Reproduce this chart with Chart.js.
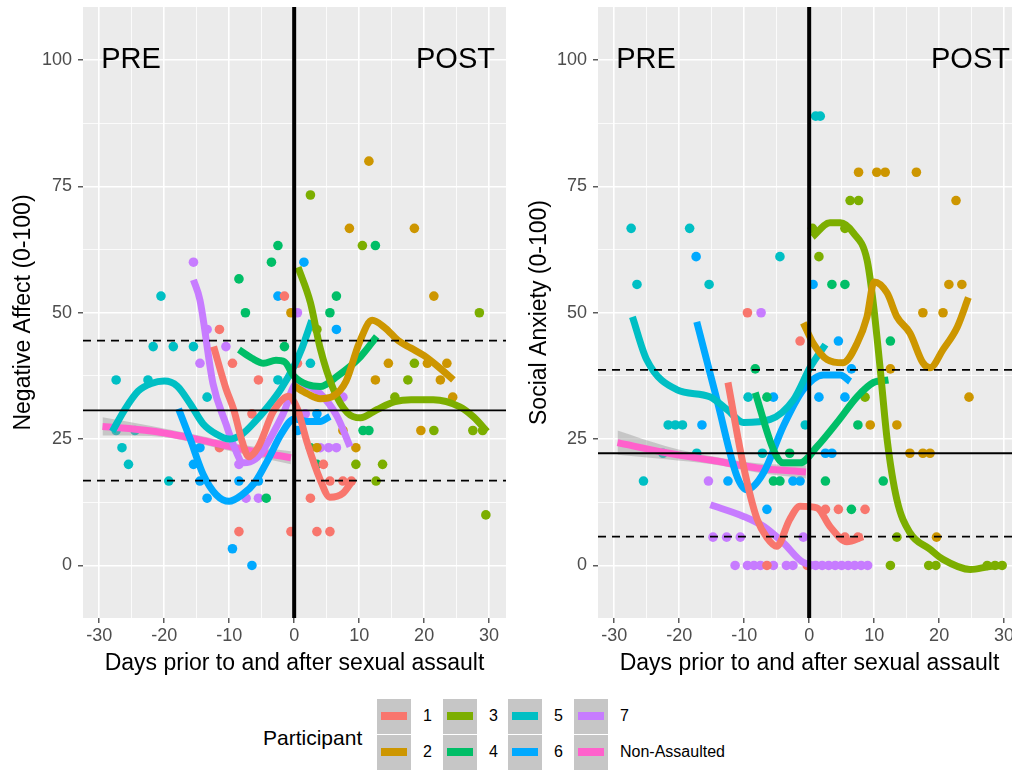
<!DOCTYPE html>
<html>
<head>
<meta charset="utf-8">
<script src="https://cdn.jsdelivr.net/npm/chart.js@4.4.0/dist/chart.umd.min.js"></script>
<style>
html, body { margin: 0; padding: 0; background: #fff; overflow: hidden; width: 1012px; height: 771px; }
canvas { position: absolute; top: 0; }
#legend { position: absolute; left: 0; top: 0; font-family: "Liberation Sans", Arial, sans-serif; }
.key { position: absolute; width: 34px; height: 35px; background: #C6C6C6; }
.key span { position: absolute; left: 4px; top: 13px; width: 26px; height: 8px; }
.lab { position: absolute; font-size: 16px; color: #000; line-height: 20px; white-space: nowrap; }
</style>
</head>
<body>
<canvas id="naChart" width="512" height="680" style="left:0"></canvas>
<canvas id="saChart" width="522" height="680" style="left:512px"></canvas>
<div id="legend"></div>
<script>
// axis ranges and ticks
const xMin = -32.5, xMax = 32.6;
const yMin = -10.4, yMax = 110.5;
const xTicks = [-30, -20, -10, 0, 10, 20, 30];
const xMinor = [-25, -15, -5, 5, 15, 25];
const yTicks = [0, 25, 50, 75, 100];
const yMinor = [12.5, 37.5, 62.5, 87.5];

const participants = ['1', '2', '3', '4', '5', '6', '7', 'Non-Assaulted'];
const colors = ['#F8766D', '#CD9600', '#7CAE00', '#00BE67', '#00BFC4', '#00A9FF', '#C77CFF', '#FF61CC'];

// Negative affect: observed points (day, score)
const na1 = [[-11.5,46.7],[-9.5,40],[0.5,40],[-5.5,36.7],[-6.5,30],[-11.5,23.3],[4.5,20],[5.5,16.7],[7.5,16.7],[8.8,16.7],[2.5,13.3],[-8.5,6.7],[-0.5,6.7],[3.5,6.7],[5.5,6.7],[-1.5,53.3]];
const na2 = [[11.5,80],[8.5,66.7],[18.5,66.7],[21.5,53.3],[-0.5,50],[14.5,40],[20.5,40],[23.5,40],[12.5,36.7],[22.5,36.7],[24.4,33.3],[19.5,26.7],[7.5,26.7],[9.5,23.3],[3.5,23.3]];
const na3 = [[2.5,73.3],[10.5,63.3],[28.5,50],[3.5,46.7],[18.5,40],[17.5,36.7],[15.5,33.3],[21.5,26.7],[27.5,26.7],[29,26.7],[9.5,20],[13.6,20],[12.6,16.7],[29.5,10]];
const na4 = [[-2.5,63.3],[12.5,63.3],[-3.5,60],[-8.5,56.7],[6.5,53.3],[-7.5,50],[5.5,50],[-1.5,43.3],[10.6,26.7],[11.5,26.7],[2.5,23.3],[3.5,20],[-4.3,13.3]];
const na5 = [[-20.5,53.3],[-21.7,43.3],[-18.6,43.3],[-15.5,43.3],[2.5,40],[-27.4,36.7],[-22.5,36.7],[-2.5,36.7],[-13.4,33.3],[-27.4,26.7],[-24.5,26.7],[-26.5,23.3],[-25.5,20],[-19.3,16.7]];
const na6 = [[1.5,60],[-2.5,53.3],[6.5,46.7],[-14.5,23.3],[-15.5,20],[-14.5,16.7],[-8.5,16.7],[-5.5,16.7],[-13.4,13.3],[-9.5,3.3],[-6.5,0],[0.5,26.7],[3.5,30]];
const na7 = [[-15.5,60],[0.5,50],[-13.4,46.7],[-10.5,43.3],[-14.5,40],[7.5,33.3],[1.7,30],[4,23.3],[5.3,23.3],[6.5,23.3],[-8.5,20],[-7.4,13.3],[-5.5,13.3]];
const naNon = [];

// Negative affect: smoothed fits
const naFit1 = [[-12.4,43.3],[-10.5,35],[-9.3,30.8],[-8,24.5],[-7,21.5],[-5.5,23.5],[-3.2,30.5],[-0.8,33.5],[0.5,31],[2,24.3],[4,17],[5.5,13.5],[7.5,14.3],[9.1,17]];
const naFit2 = [[0,35.5],[2,34],[4,33],[6,33.5],[8,36.5],[10,44],[12,48.5],[14,47],[16,44.5],[18,43],[20,41.5],[22,39.5],[24.5,36.7]];
const naFit3 = [[0.6,59],[2.5,52],[4,43],[6,35],[8.2,30.2],[10.2,29.2],[12.7,30.8],[15.5,32.4],[18,32.8],[21.4,32.8],[25.5,31.4],[27.6,29.4],[29.7,26.5]];
const naFit4 = [[-8.5,42.7],[-6.5,41],[-4.7,40],[-2.8,40.6],[-1.5,40.3],[0,37.4],[2,35.8],[4,35.4],[6.6,37.4],[10.2,41.3],[12.7,45.3]];
const naFit5 = [[-28,26.5],[-26,31],[-24,34.5],[-22,36],[-20,36.5],[-18,35.5],[-16,32],[-14,28],[-12,26],[-10,25],[-8,26],[-6,28.5],[-4,31.5],[-2,35],[0,39.5],[1.2,43],[2.7,48.5]];
const naFit6 = [[-17.8,31],[-16,25],[-14,18],[-12,14],[-10,12.7],[-8,14],[-6,16.5],[-4,21],[-2,26],[0,29],[2,28.5],[4,28.5],[5.5,29.5]];
const naFit7 = [[-15.5,56.5],[-14.5,52.5],[-12.5,36],[-10.5,28],[-9.4,24],[-7.8,20.3],[-6,21],[-4.7,23],[-1.7,30],[0.4,36],[2,35.5],[4,34],[6.6,29.5],[8.6,23.5]];
const naFitNon = [[-29.5,27.5],[-22,26.6],[-15,25],[-8,23],[-0.5,21.3]];
const naBandHi = [[-29.5,29.3],[-22,27.6],[-15,25.8],[-8,23.9],[-0.5,22.6]];
const naBandLo = [[-29.5,25.7],[-22,25.6],[-15,24.2],[-8,22.1],[-0.5,20]];
const naMean = 30.7, naSd = [44.5, 16.8];

// Social anxiety: observed points
const sa1 = [[-9.5,50],[-1.4,44.4],[2.5,11.1],[4.5,11.1],[8.6,11.1],[5.5,5.6],[7.5,5.6],[-6.5,0],[-0.3,0]];
const sa2 = [[7.6,77.8],[10.4,77.8],[11.7,77.8],[16.5,77.8],[22.6,72.2],[21.5,55.6],[23.5,55.6],[17.5,50],[20.6,50],[12.5,38.9],[24.6,33.3],[9.4,27.8],[13.5,27.8],[15.5,22.2],[17.5,22.2],[18.6,22.2],[19.6,5.6]];
const sa3 = [[6.3,72.2],[7.6,72.2],[5.5,66.7],[0.5,66.7],[1.5,61.1],[8.6,33.3],[13.5,5.6],[12.5,0],[18.4,0],[19.5,0],[27.4,0],[28.6,0],[29.7,0]];
const sa4 = [[3.5,55.6],[5.5,55.6],[12.5,44.4],[-8.3,38.9],[-6.5,33.3],[7.5,27.8],[-5.5,16.7],[-4.5,16.7],[2.5,16.7],[11.4,16.7],[6.5,11.1],[-3,22.2]];
const sa5 = [[1,88.9],[1.7,88.9],[-27.4,66.7],[-18.4,66.7],[-4.5,61.1],[-26.5,55.6],[-15.4,55.6],[-9.4,33.3],[-21.7,27.8],[-20.6,27.8],[-19.5,27.8],[-0.6,27.8],[-22.5,22.2],[-17.3,22.2],[-7.2,22.2],[-25.5,16.7]];
const sa6 = [[-17.4,61.1],[0.6,55.6],[4.5,44.4],[6.5,38.9],[-5.5,33.3],[1.5,33.3],[5.5,33.3],[-16.5,27.8],[-12.5,16.7],[-2.5,16.7],[-1.4,16.7],[-6.5,11.1],[2.5,22.2],[3.5,22.2]];
const sa7 = [[-7.4,50],[-15.5,16.7],[-14.8,5.6],[-12.7,5.6],[-10.6,5.6],[-0.9,5.6],[-11.4,0],[-9.5,0],[-8.5,0],[-7.5,0],[-5.5,0],[-3.5,0],[-2.5,0],[0,0],[1,0],[2,0],[3,0],[4,0],[5,0],[6,0],[7,0],[8,0],[9,0]];
const saNon = [];

// Social anxiety: smoothed fits
const saFit1 = [[-12.5,36.2],[-10.1,19.6],[-8,9.1],[-6.5,5.5],[-5,3.8],[-3,9.1],[-1.4,11.7],[1.2,11.4],[3.2,7.7],[5.8,4.7],[8.3,5.7]];
const saFit2 = [[-0.9,48],[0.6,44],[2.8,40.7],[5.2,40.1],[7.4,44],[8.9,49.2],[10,56.1],[12,53.9],[13.5,49.2],[15.5,46],[17.5,40.1],[18.6,39.1],[20.6,42.7],[22.8,47.2],[24.5,53]];
const saFit3 = [[0.5,65],[3.2,67.8],[4.8,67.8],[6.8,65.8],[8.9,60.5],[9.8,52.6],[10.9,39.3],[12,24.9],[13.5,13],[15.5,6.5],[18.6,3.2],[20.6,1.2],[24.8,-0.8],[27.8,-0.2],[29.8,0]];
const saFit4 = [[-8.3,34.2],[-5.5,22.9],[-4,20.3],[-1.4,20.3],[1.2,23.5],[4.3,28.3],[7.4,33.4],[9.9,36.2],[12.2,36.7]];
const saFit5 = [[-27.2,49.2],[-25,40.7],[-20.4,34.8],[-15.3,33.4],[-12.6,30.8],[-10.1,28.3],[-6,28.9],[-2.4,32.8],[0.2,39.3],[2.5,43.7]];
const saFit6 = [[-17.3,48.2],[-14.2,32.8],[-11.1,17.6],[-9.6,15],[-7,18.4],[-4,27.5],[-0.9,34.8],[2.2,37.7],[4.8,37.7],[6.3,36.4]];
const saFit7 = [[-15.2,12],[-10.1,9.7],[-7,7.7],[-4,4.5],[-0.9,0.6],[2,0],[8.3,0]];
const saFitNon = [[-29.5,24.3],[-22,22.3],[-15,20.8],[-8,19.3],[-0.5,18.5]];
const saBandHi = [[-29.5,26.7],[-22,23.6],[-15,21.6],[-8,20.2],[-0.5,19.8]];
const saBandLo = [[-29.5,21.9],[-22,21],[-15,20],[-8,18.4],[-0.5,17.2]];
const saMean = 22.2, saSd = [38.7, 5.7];

const FONT = '"Liberation Sans", Arial, sans-serif';

function xy(arr) {
    return arr.map(p => ({x: p[0], y: p[1]}));
}

function buildDatasets(points, fits, bandHi, bandLo, mean, sd) {
    const sets = [];
    points.forEach((pts, i) => {
        sets.push({
            label: participants[i] + ' points', data: xy(pts), showLine: false,
            pointRadius: 4.8, pointBorderWidth: 0, pointBackgroundColor: colors[i], order: 4
        });
    });
    // confidence band for the non-assaulted fit
    sets.push({ label: 'band hi', data: xy(bandHi), borderWidth: 0, pointRadius: 0, fill: false, order: 3,
        cubicInterpolationMode: 'monotone' });
    sets.push({ label: 'band lo', data: xy(bandLo), borderWidth: 0, pointRadius: 0, order: 3,
        fill: '-1', backgroundColor: 'rgba(153,153,153,0.45)', cubicInterpolationMode: 'monotone' });
    fits.forEach((f, i) => {
        sets.push({
            label: participants[i], data: xy(f), borderColor: colors[i], borderWidth: 7,
            pointRadius: 0, cubicInterpolationMode: 'monotone', order: 2
        });
    });
    // reference lines
    sets.push({ label: 'mean', data: xy([[xMin, mean], [xMax, mean]]), borderColor: '#000', borderWidth: 1.8, pointRadius: 0, order: 1 });
    sd.forEach(v => {
        sets.push({ label: 'sd', data: xy([[xMin, v], [xMax, v]]), borderColor: '#000', borderWidth: 1.8,
            borderDash: [8, 6], pointRadius: 0, order: 1 });
    });
    sets.push({ label: 'assault', data: xy([[0, yMin], [0, yMax]]), borderColor: '#000', borderWidth: 4, pointRadius: 0, order: 0 });
    return sets;
}

const panelBg = {
    id: 'panelBg',
    beforeDraw(chart) {
        const a = chart.chartArea;
        const ctx = chart.ctx;
        ctx.save();
        ctx.fillStyle = '#EBEBEB';
        ctx.fillRect(a.left, a.top, a.right - a.left, a.bottom - a.top);
        ctx.restore();
    }
};

const prePost = {
    id: 'prePost',
    afterDraw(chart) {
        const ctx = chart.ctx;
        const x = chart.scales.x, y = chart.scales.y;
        ctx.save();
        ctx.fillStyle = '#000';
        ctx.font = '29px ' + FONT;
        ctx.textBaseline = 'middle';
        ctx.textAlign = 'left';
        ctx.fillText('PRE', x.getPixelForValue(-29.7), y.getPixelForValue(100));
        ctx.textAlign = 'right';
        ctx.fillText('POST', x.getPixelForValue(30.9), y.getPixelForValue(100));
        ctx.restore();
    }
};

function isMajor(list, v) {
    return list.some(t => Math.abs(t - v) < 1e-6);
}

function makeChart(id, yTitle, datasets, leftWidth, rightPad, titlePad) {
    return new Chart(document.getElementById(id), {
        type: 'line',
        data: { datasets: datasets },
        plugins: [panelBg, prePost],
        options: {
            responsive: false,
            animation: false,
            layout: { padding: { top: 7, right: rightPad, left: 0, bottom: 0 } },
            plugins: { legend: { display: false }, tooltip: { enabled: false } },
            scales: {
                x: {
                    type: 'linear', min: xMin, max: xMax,
                    afterBuildTicks: s => { s.ticks = xTicks.concat(xMinor).sort((a, b) => a - b).map(v => ({value: v})); },
                    afterFit: s => { s.height = 62; s.paddingLeft = 0; s.paddingRight = 0; },
                    grid: {
                        color: '#fff',
                        lineWidth: c => isMajor(xTicks, c.tick.value) ? 1.6 : 0.8,
                        tickColor: c => isMajor(xTicks, c.tick.value) ? '#333' : 'rgba(0,0,0,0)',
                        tickLength: 5, tickWidth: 1.2
                    },
                    border: { display: false },
                    ticks: {
                        autoSkip: false, maxRotation: 0, padding: 2, color: '#4D4D4D',
                        font: { family: FONT, size: 18 },
                        callback: v => isMajor(xTicks, v) ? String(v) : ''
                    },
                    title: {
                        display: true, text: 'Days prior to and after sexual assault', color: '#000',
                        font: { family: FONT, size: 23 }, padding: { top: 0, bottom: 3 }
                    }
                },
                y: {
                    type: 'linear', min: yMin, max: yMax,
                    afterBuildTicks: s => { s.ticks = yTicks.concat(yMinor).sort((a, b) => a - b).map(v => ({value: v})); },
                    afterFit: s => { s.width = leftWidth; s.paddingTop = 0; s.paddingBottom = 0; },
                    grid: {
                        color: '#fff',
                        lineWidth: c => isMajor(yTicks, c.tick.value) ? 1.6 : 0.8,
                        tickColor: c => isMajor(yTicks, c.tick.value) ? '#333' : 'rgba(0,0,0,0)',
                        tickLength: 5, tickWidth: 1.2
                    },
                    border: { display: false },
                    ticks: {
                        autoSkip: false, padding: 6, color: '#4D4D4D',
                        font: { family: FONT, size: 18 },
                        callback: v => isMajor(yTicks, v) ? String(v) : ''
                    },
                    title: {
                        display: true, text: yTitle, color: '#000',
                        font: { family: FONT, size: 23 }, padding: { top: titlePad, bottom: 0 }
                    }
                }
            }
        }
    });
}

makeChart('naChart', 'Negative Affect (0-100)',
    buildDatasets([na1, na2, na3, na4, na5, na6, na7, naNon],
        [naFit1, naFit2, naFit3, naFit4, naFit5, naFit6, naFit7, naFitNon],
        naBandHi, naBandLo, naMean, naSd), 83, 6, 10);

makeChart('saChart', 'Social Anxiety (0-100)',
    buildDatasets([sa1, sa2, sa3, sa4, sa5, sa6, sa7, saNon],
        [saFit1, saFit2, saFit3, saFit4, saFit5, saFit6, saFit7, saFitNon],
        saBandHi, saBandLo, saMean, saSd), 86, 13, 14);

// legend
const legend = document.getElementById('legend');
const title = document.createElement('div');
title.className = 'lab';
title.textContent = 'Participant';
title.style.cssText = 'left:263px;top:725px;font-size:21px;line-height:26px;';
legend.appendChild(title);
const keyX = [377, 443, 508, 574];
const keyY = [699, 735];
participants.forEach((p, i) => {
    const col = Math.floor(i / 2), row = i % 2;
    const key = document.createElement('div');
    key.className = 'key';
    key.style.left = keyX[col] + 'px';
    key.style.top = keyY[row] + 'px';
    const line = document.createElement('span');
    line.style.background = colors[i];
    key.appendChild(line);
    legend.appendChild(key);
    const lab = document.createElement('div');
    lab.className = 'lab';
    lab.textContent = p;
    lab.style.left = (keyX[col] + 46) + 'px';
    lab.style.top = (keyY[row] + 7) + 'px';
    legend.appendChild(lab);
});
</script>
</body>
</html>
